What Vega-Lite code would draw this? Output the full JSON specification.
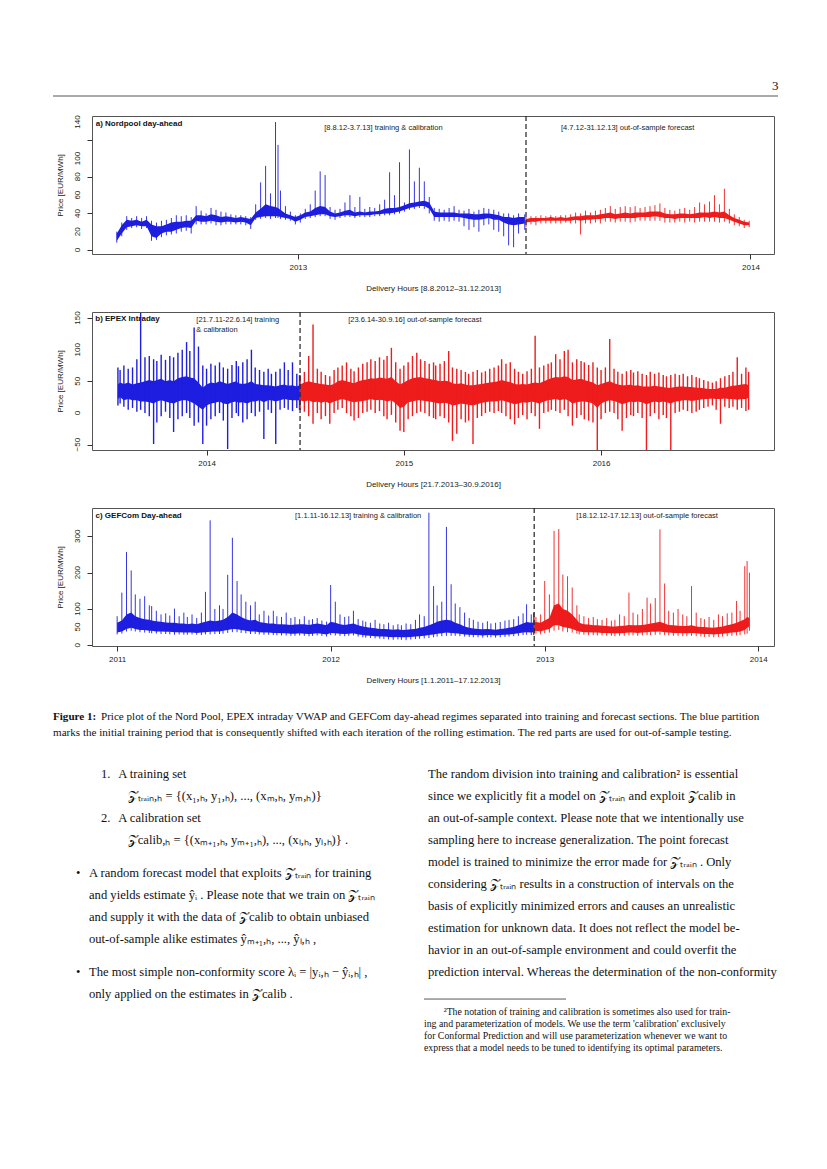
{
"$schema": "https://vega.github.io/schema/vega-lite/v6.json",
"background": "white",
"padding": {"left": 52, "top": 80, "right": 50, "bottom": 100},
"spacing": 17,
"align": "none",
"bounds": "full",
"config": {
  "view": {"stroke": "#555", "strokeWidth": 1},
  "font": "Liberation Sans",
  "axis": {"grid": false, "domain": false, "tickColor": "#333", "tickSize": 5, "labelFont": "Liberation Sans", "labelFontSize": 8, "labelColor": "#222", "titleFont": "Liberation Sans", "titleFontSize": 8, "titleFontWeight": "normal", "titleColor": "#222", "labelOverlap": false},
  "axisY": {"labels": false, "titlePadding": 22},
  "axisX": {"labelPadding": 4, "titlePadding": 13.5, "labelFlush": false}
},
"datasets": {
"pa": [
{"t":"2012-08-08","s":"tr","lo":10,"hi":18,"mn":8,"mx":20},
{"t":"2012-08-12","s":"tr","lo":18,"hi":27,"mn":15,"mx":30},
{"t":"2012-08-16","s":"tr","lo":25,"hi":33,"mn":22,"mx":37},
{"t":"2012-08-20","s":"tr","lo":26,"hi":32,"mn":24,"mx":35},
{"t":"2012-08-24","s":"tr","lo":27,"hi":33,"mn":25,"mx":37},
{"t":"2012-08-28","s":"tr","lo":26,"hi":31,"mn":23,"mx":35},
{"t":"2012-09-01","s":"tr","lo":26,"hi":33,"mn":24,"mx":37},
{"t":"2012-09-05","s":"tr","lo":15,"hi":28,"mn":10,"mx":32},
{"t":"2012-09-09","s":"tr","lo":13,"hi":26,"mn":11,"mx":30},
{"t":"2012-09-13","s":"tr","lo":18,"hi":26,"mn":14,"mx":32},
{"t":"2012-09-17","s":"tr","lo":20,"hi":28,"mn":16,"mx":33},
{"t":"2012-09-21","s":"tr","lo":20,"hi":30,"mn":17,"mx":35},
{"t":"2012-09-25","s":"tr","lo":22,"hi":31,"mn":18,"mx":38},
{"t":"2012-09-29","s":"tr","lo":24,"hi":31,"mn":20,"mx":37},
{"t":"2012-10-03","s":"tr","lo":25,"hi":32,"mn":21,"mx":38},
{"t":"2012-10-07","s":"tr","lo":24,"hi":32,"mn":18,"mx":36},
{"t":"2012-10-11","s":"tr","lo":32,"hi":38,"mn":28,"mx":48},
{"t":"2012-10-15","s":"tr","lo":31,"hi":38,"mn":28,"mx":43},
{"t":"2012-10-19","s":"tr","lo":31,"hi":37,"mn":28,"mx":40},
{"t":"2012-10-23","s":"tr","lo":32,"hi":39,"mn":29,"mx":46},
{"t":"2012-10-27","s":"tr","lo":31,"hi":38,"mn":27,"mx":44},
{"t":"2012-10-31","s":"tr","lo":30,"hi":36,"mn":27,"mx":42},
{"t":"2012-11-04","s":"tr","lo":31,"hi":37,"mn":28,"mx":41},
{"t":"2012-11-08","s":"tr","lo":31,"hi":36,"mn":28,"mx":39},
{"t":"2012-11-12","s":"tr","lo":30,"hi":35,"mn":28,"mx":38},
{"t":"2012-11-16","s":"tr","lo":31,"hi":36,"mn":28,"mx":38},
{"t":"2012-11-20","s":"tr","lo":30,"hi":35,"mn":27,"mx":37},
{"t":"2012-11-24","s":"tr","lo":27,"hi":34,"mn":23,"mx":36},
{"t":"2012-11-28","s":"tr","lo":35,"hi":41,"mn":33,"mx":50},
{"t":"2012-12-02","s":"tr","lo":36,"hi":45,"mn":34,"mx":74},
{"t":"2012-12-06","s":"tr","lo":37,"hi":50,"mn":35,"mx":92},
{"t":"2012-12-10","s":"tr","lo":37,"hi":48,"mn":34,"mx":62},
{"t":"2012-12-14","s":"tr","lo":37,"hi":47,"mn":35,"mx":140},
{"t":"2012-12-16","s":"tr","lo":37,"hi":46,"mn":35,"mx":115},
{"t":"2012-12-18","s":"tr","lo":36,"hi":44,"mn":34,"mx":65},
{"t":"2012-12-22","s":"tr","lo":35,"hi":40,"mn":33,"mx":48},
{"t":"2012-12-26","s":"tr","lo":34,"hi":38,"mn":32,"mx":42},
{"t":"2012-12-30","s":"tr","lo":31,"hi":36,"mn":28,"mx":38},
{"t":"2013-01-03","s":"tr","lo":33,"hi":38,"mn":30,"mx":40},
{"t":"2013-01-07","s":"tr","lo":36,"hi":41,"mn":34,"mx":45},
{"t":"2013-01-11","s":"tr","lo":37,"hi":42,"mn":35,"mx":50},
{"t":"2013-01-15","s":"tr","lo":38,"hi":46,"mn":36,"mx":65},
{"t":"2013-01-19","s":"tr","lo":39,"hi":48,"mn":37,"mx":86},
{"t":"2013-01-23","s":"tr","lo":39,"hi":47,"mn":37,"mx":82},
{"t":"2013-01-27","s":"tr","lo":37,"hi":42,"mn":34,"mx":47},
{"t":"2013-01-31","s":"tr","lo":36,"hi":40,"mn":33,"mx":44},
{"t":"2013-02-04","s":"tr","lo":37,"hi":41,"mn":35,"mx":45},
{"t":"2013-02-08","s":"tr","lo":38,"hi":43,"mn":36,"mx":52},
{"t":"2013-02-12","s":"tr","lo":38,"hi":44,"mn":36,"mx":60},
{"t":"2013-02-16","s":"tr","lo":37,"hi":41,"mn":35,"mx":47},
{"t":"2013-02-20","s":"tr","lo":38,"hi":42,"mn":36,"mx":58},
{"t":"2013-02-24","s":"tr","lo":38,"hi":41,"mn":36,"mx":45},
{"t":"2013-02-28","s":"tr","lo":38,"hi":42,"mn":36,"mx":47},
{"t":"2013-03-04","s":"tr","lo":39,"hi":42,"mn":37,"mx":46},
{"t":"2013-03-08","s":"tr","lo":39,"hi":43,"mn":37,"mx":50},
{"t":"2013-03-12","s":"tr","lo":40,"hi":45,"mn":38,"mx":55},
{"t":"2013-03-16","s":"tr","lo":40,"hi":46,"mn":38,"mx":85},
{"t":"2013-03-20","s":"tr","lo":41,"hi":46,"mn":39,"mx":60},
{"t":"2013-03-24","s":"tr","lo":42,"hi":47,"mn":40,"mx":96},
{"t":"2013-03-28","s":"tr","lo":44,"hi":49,"mn":42,"mx":52},
{"t":"2013-04-01","s":"tr","lo":46,"hi":51,"mn":44,"mx":110},
{"t":"2013-04-05","s":"tr","lo":47,"hi":52,"mn":45,"mx":75},
{"t":"2013-04-09","s":"tr","lo":48,"hi":53,"mn":46,"mx":90},
{"t":"2013-04-13","s":"tr","lo":48,"hi":54,"mn":45,"mx":75},
{"t":"2013-04-17","s":"tr","lo":45,"hi":52,"mn":40,"mx":58},
{"t":"2013-04-21","s":"tr","lo":36,"hi":42,"mn":32,"mx":46},
{"t":"2013-04-25","s":"tr","lo":36,"hi":41,"mn":31,"mx":45},
{"t":"2013-04-29","s":"tr","lo":36,"hi":41,"mn":32,"mx":44},
{"t":"2013-05-03","s":"tr","lo":36,"hi":41,"mn":31,"mx":46},
{"t":"2013-05-07","s":"tr","lo":36,"hi":41,"mn":32,"mx":48},
{"t":"2013-05-11","s":"tr","lo":36,"hi":40,"mn":31,"mx":44},
{"t":"2013-05-15","s":"tr","lo":35,"hi":40,"mn":26,"mx":43},
{"t":"2013-05-19","s":"tr","lo":34,"hi":40,"mn":22,"mx":45},
{"t":"2013-05-23","s":"tr","lo":33,"hi":39,"mn":25,"mx":42},
{"t":"2013-05-27","s":"tr","lo":33,"hi":39,"mn":20,"mx":44},
{"t":"2013-05-31","s":"tr","lo":34,"hi":40,"mn":27,"mx":46},
{"t":"2013-06-04","s":"tr","lo":35,"hi":40,"mn":28,"mx":45},
{"t":"2013-06-08","s":"tr","lo":33,"hi":39,"mn":22,"mx":44},
{"t":"2013-06-12","s":"tr","lo":33,"hi":38,"mn":20,"mx":42},
{"t":"2013-06-16","s":"tr","lo":30,"hi":36,"mn":15,"mx":40},
{"t":"2013-06-20","s":"tr","lo":28,"hi":36,"mn":5,"mx":40},
{"t":"2013-06-24","s":"tr","lo":27,"hi":35,"mn":3,"mx":38},
{"t":"2013-06-28","s":"tr","lo":28,"hi":36,"mn":18,"mx":40},
{"t":"2013-07-03","s":"tr","lo":29,"hi":36,"mn":22,"mx":39},
{"t":"2013-07-04","s":"te","lo":30,"hi":34,"mn":25,"mx":36},
{"t":"2013-07-08","s":"te","lo":31,"hi":35,"mn":28,"mx":37},
{"t":"2013-07-12","s":"te","lo":31,"hi":35,"mn":27,"mx":37},
{"t":"2013-07-16","s":"te","lo":32,"hi":35,"mn":29,"mx":38},
{"t":"2013-07-20","s":"te","lo":32,"hi":35,"mn":29,"mx":37},
{"t":"2013-07-24","s":"te","lo":32,"hi":36,"mn":29,"mx":38},
{"t":"2013-07-28","s":"te","lo":32,"hi":35,"mn":29,"mx":37},
{"t":"2013-08-01","s":"te","lo":32,"hi":36,"mn":29,"mx":38},
{"t":"2013-08-05","s":"te","lo":32,"hi":35,"mn":30,"mx":38},
{"t":"2013-08-09","s":"te","lo":32,"hi":36,"mn":29,"mx":39},
{"t":"2013-08-13","s":"te","lo":33,"hi":37,"mn":29,"mx":41},
{"t":"2013-08-17","s":"te","lo":32,"hi":37,"mn":17,"mx":40},
{"t":"2013-08-21","s":"te","lo":33,"hi":38,"mn":29,"mx":43},
{"t":"2013-08-25","s":"te","lo":33,"hi":38,"mn":29,"mx":41},
{"t":"2013-08-29","s":"te","lo":34,"hi":38,"mn":30,"mx":43},
{"t":"2013-09-02","s":"te","lo":34,"hi":39,"mn":29,"mx":44},
{"t":"2013-09-06","s":"te","lo":35,"hi":40,"mn":31,"mx":46},
{"t":"2013-09-10","s":"te","lo":35,"hi":41,"mn":31,"mx":48},
{"t":"2013-09-14","s":"te","lo":34,"hi":39,"mn":30,"mx":45},
{"t":"2013-09-18","s":"te","lo":35,"hi":40,"mn":31,"mx":47},
{"t":"2013-09-22","s":"te","lo":35,"hi":41,"mn":31,"mx":48},
{"t":"2013-09-26","s":"te","lo":35,"hi":40,"mn":30,"mx":47},
{"t":"2013-09-30","s":"te","lo":35,"hi":41,"mn":31,"mx":48},
{"t":"2013-10-04","s":"te","lo":36,"hi":41,"mn":32,"mx":46},
{"t":"2013-10-08","s":"te","lo":36,"hi":41,"mn":32,"mx":47},
{"t":"2013-10-12","s":"te","lo":36,"hi":42,"mn":32,"mx":48},
{"t":"2013-10-16","s":"te","lo":37,"hi":42,"mn":32,"mx":49},
{"t":"2013-10-20","s":"te","lo":36,"hi":42,"mn":32,"mx":51},
{"t":"2013-10-24","s":"te","lo":35,"hi":40,"mn":30,"mx":46},
{"t":"2013-10-28","s":"te","lo":35,"hi":39,"mn":30,"mx":44},
{"t":"2013-11-01","s":"te","lo":34,"hi":39,"mn":30,"mx":43},
{"t":"2013-11-05","s":"te","lo":35,"hi":40,"mn":31,"mx":45},
{"t":"2013-11-09","s":"te","lo":35,"hi":40,"mn":30,"mx":46},
{"t":"2013-11-13","s":"te","lo":35,"hi":39,"mn":31,"mx":44},
{"t":"2013-11-17","s":"te","lo":35,"hi":40,"mn":30,"mx":47},
{"t":"2013-11-21","s":"te","lo":35,"hi":41,"mn":31,"mx":52},
{"t":"2013-11-25","s":"te","lo":36,"hi":41,"mn":31,"mx":50},
{"t":"2013-11-29","s":"te","lo":35,"hi":41,"mn":31,"mx":53},
{"t":"2013-12-03","s":"te","lo":36,"hi":42,"mn":31,"mx":60},
{"t":"2013-12-07","s":"te","lo":35,"hi":41,"mn":30,"mx":50},
{"t":"2013-12-11","s":"te","lo":35,"hi":42,"mn":31,"mx":67},
{"t":"2013-12-15","s":"te","lo":33,"hi":38,"mn":29,"mx":45},
{"t":"2013-12-19","s":"te","lo":31,"hi":35,"mn":27,"mx":39},
{"t":"2013-12-23","s":"te","lo":29,"hi":33,"mn":26,"mx":36},
{"t":"2013-12-27","s":"te","lo":27,"hi":31,"mn":24,"mx":33},
{"t":"2013-12-31","s":"te","lo":27,"hi":30,"mn":25,"mx":32}
],
"pb": [
{"t":"2013-07-21","s":"tr","lo":22,"hi":45,"mn":12,"mx":72},
{"t":"2013-07-25","s":"tr","lo":25,"hi":48,"mn":15,"mx":68},
{"t":"2013-08-01","s":"tr","lo":20,"hi":46,"mn":10,"mx":75},
{"t":"2013-08-09","s":"tr","lo":22,"hi":48,"mn":5,"mx":70},
{"t":"2013-08-17","s":"tr","lo":20,"hi":45,"mn":8,"mx":72},
{"t":"2013-08-25","s":"tr","lo":20,"hi":47,"mn":2,"mx":85},
{"t":"2013-09-01","s":"tr","lo":18,"hi":48,"mn":5,"mx":158},
{"t":"2013-09-09","s":"tr","lo":18,"hi":50,"mn":0,"mx":88},
{"t":"2013-09-17","s":"tr","lo":17,"hi":52,"mn":-5,"mx":90},
{"t":"2013-09-25","s":"tr","lo":15,"hi":50,"mn":-49,"mx":85},
{"t":"2013-10-01","s":"tr","lo":18,"hi":52,"mn":-15,"mx":82},
{"t":"2013-10-09","s":"tr","lo":20,"hi":54,"mn":-5,"mx":92},
{"t":"2013-10-17","s":"tr","lo":18,"hi":50,"mn":2,"mx":84},
{"t":"2013-10-25","s":"tr","lo":16,"hi":52,"mn":-8,"mx":90},
{"t":"2013-11-01","s":"tr","lo":15,"hi":50,"mn":-30,"mx":88},
{"t":"2013-11-09","s":"tr","lo":18,"hi":55,"mn":-10,"mx":95},
{"t":"2013-11-17","s":"tr","lo":20,"hi":57,"mn":-5,"mx":100},
{"t":"2013-11-25","s":"tr","lo":20,"hi":58,"mn":0,"mx":112},
{"t":"2013-12-01","s":"tr","lo":18,"hi":56,"mn":-8,"mx":98},
{"t":"2013-12-09","s":"tr","lo":15,"hi":55,"mn":-20,"mx":135},
{"t":"2013-12-17","s":"tr","lo":10,"hi":48,"mn":-15,"mx":105},
{"t":"2013-12-25","s":"tr","lo":5,"hi":40,"mn":-49,"mx":75},
{"t":"2014-01-01","s":"tr","lo":12,"hi":45,"mn":-20,"mx":70},
{"t":"2014-01-09","s":"tr","lo":15,"hi":48,"mn":-10,"mx":78},
{"t":"2014-01-17","s":"tr","lo":16,"hi":47,"mn":-5,"mx":75},
{"t":"2014-01-25","s":"tr","lo":18,"hi":50,"mn":0,"mx":80},
{"t":"2014-02-01","s":"tr","lo":15,"hi":48,"mn":-12,"mx":72},
{"t":"2014-02-09","s":"tr","lo":14,"hi":46,"mn":-57,"mx":70},
{"t":"2014-02-17","s":"tr","lo":17,"hi":48,"mn":-8,"mx":76},
{"t":"2014-02-25","s":"tr","lo":18,"hi":50,"mn":0,"mx":82},
{"t":"2014-03-01","s":"tr","lo":16,"hi":47,"mn":-5,"mx":74},
{"t":"2014-03-09","s":"tr","lo":17,"hi":46,"mn":-15,"mx":80},
{"t":"2014-03-17","s":"tr","lo":15,"hi":47,"mn":-10,"mx":85},
{"t":"2014-03-25","s":"tr","lo":18,"hi":50,"mn":0,"mx":100},
{"t":"2014-04-01","s":"tr","lo":18,"hi":46,"mn":-5,"mx":72},
{"t":"2014-04-09","s":"tr","lo":20,"hi":45,"mn":2,"mx":68},
{"t":"2014-04-17","s":"tr","lo":17,"hi":44,"mn":-41,"mx":65},
{"t":"2014-04-25","s":"tr","lo":20,"hi":44,"mn":5,"mx":70},
{"t":"2014-05-01","s":"tr","lo":20,"hi":43,"mn":0,"mx":62},
{"t":"2014-05-09","s":"tr","lo":18,"hi":42,"mn":-49,"mx":65},
{"t":"2014-05-17","s":"tr","lo":20,"hi":44,"mn":5,"mx":70},
{"t":"2014-05-25","s":"tr","lo":22,"hi":45,"mn":8,"mx":80},
{"t":"2014-06-01","s":"tr","lo":21,"hi":43,"mn":5,"mx":68},
{"t":"2014-06-09","s":"tr","lo":20,"hi":44,"mn":3,"mx":80},
{"t":"2014-06-17","s":"tr","lo":20,"hi":42,"mn":8,"mx":62},
{"t":"2014-06-22","s":"tr","lo":20,"hi":44,"mn":5,"mx":60},
{"t":"2014-06-23","s":"te","lo":20,"hi":45,"mn":5,"mx":60},
{"t":"2014-07-01","s":"te","lo":18,"hi":48,"mn":2,"mx":65},
{"t":"2014-07-09","s":"te","lo":20,"hi":50,"mn":-5,"mx":90},
{"t":"2014-07-17","s":"te","lo":17,"hi":48,"mn":-17,"mx":140},
{"t":"2014-07-25","s":"te","lo":18,"hi":47,"mn":0,"mx":70},
{"t":"2014-08-01","s":"te","lo":16,"hi":46,"mn":-10,"mx":65},
{"t":"2014-08-09","s":"te","lo":18,"hi":45,"mn":-5,"mx":60},
{"t":"2014-08-17","s":"te","lo":15,"hi":44,"mn":-17,"mx":58},
{"t":"2014-08-25","s":"te","lo":18,"hi":46,"mn":0,"mx":68},
{"t":"2014-09-01","s":"te","lo":20,"hi":50,"mn":5,"mx":72},
{"t":"2014-09-09","s":"te","lo":22,"hi":52,"mn":8,"mx":75},
{"t":"2014-09-17","s":"te","lo":20,"hi":50,"mn":0,"mx":80},
{"t":"2014-09-25","s":"te","lo":18,"hi":48,"mn":-5,"mx":70},
{"t":"2014-10-01","s":"te","lo":17,"hi":47,"mn":-12,"mx":66},
{"t":"2014-10-09","s":"te","lo":18,"hi":50,"mn":-8,"mx":72},
{"t":"2014-10-17","s":"te","lo":19,"hi":52,"mn":0,"mx":78},
{"t":"2014-10-25","s":"te","lo":20,"hi":53,"mn":2,"mx":80},
{"t":"2014-11-01","s":"te","lo":22,"hi":55,"mn":5,"mx":85},
{"t":"2014-11-09","s":"te","lo":20,"hi":54,"mn":0,"mx":82},
{"t":"2014-11-17","s":"te","lo":21,"hi":56,"mn":3,"mx":88},
{"t":"2014-11-25","s":"te","lo":20,"hi":55,"mn":-5,"mx":84},
{"t":"2014-12-01","s":"te","lo":18,"hi":54,"mn":-10,"mx":90},
{"t":"2014-12-09","s":"te","lo":20,"hi":57,"mn":-3,"mx":103},
{"t":"2014-12-17","s":"te","lo":15,"hi":50,"mn":-15,"mx":80},
{"t":"2014-12-25","s":"te","lo":8,"hi":45,"mn":-28,"mx":70},
{"t":"2015-01-01","s":"te","lo":10,"hi":48,"mn":-30,"mx":75},
{"t":"2015-01-09","s":"te","lo":17,"hi":52,"mn":-10,"mx":80},
{"t":"2015-01-17","s":"te","lo":18,"hi":55,"mn":-5,"mx":90},
{"t":"2015-01-25","s":"te","lo":20,"hi":56,"mn":0,"mx":95},
{"t":"2015-02-01","s":"te","lo":20,"hi":57,"mn":2,"mx":85},
{"t":"2015-02-09","s":"te","lo":19,"hi":55,"mn":0,"mx":82},
{"t":"2015-02-17","s":"te","lo":18,"hi":54,"mn":-5,"mx":78},
{"t":"2015-02-25","s":"te","lo":17,"hi":52,"mn":-8,"mx":80},
{"t":"2015-03-01","s":"te","lo":16,"hi":52,"mn":-10,"mx":75},
{"t":"2015-03-09","s":"te","lo":15,"hi":50,"mn":-5,"mx":78},
{"t":"2015-03-17","s":"te","lo":16,"hi":51,"mn":-8,"mx":82},
{"t":"2015-03-25","s":"te","lo":15,"hi":50,"mn":-15,"mx":98},
{"t":"2015-04-01","s":"te","lo":12,"hi":47,"mn":-44,"mx":72},
{"t":"2015-04-09","s":"te","lo":13,"hi":46,"mn":-33,"mx":70},
{"t":"2015-04-17","s":"te","lo":15,"hi":47,"mn":-10,"mx":68},
{"t":"2015-04-25","s":"te","lo":14,"hi":45,"mn":-15,"mx":65},
{"t":"2015-05-01","s":"te","lo":13,"hi":44,"mn":-12,"mx":62},
{"t":"2015-05-09","s":"te","lo":12,"hi":44,"mn":-49,"mx":65},
{"t":"2015-05-17","s":"te","lo":14,"hi":45,"mn":-8,"mx":68},
{"t":"2015-05-25","s":"te","lo":16,"hi":46,"mn":-5,"mx":64},
{"t":"2015-06-01","s":"te","lo":17,"hi":47,"mn":0,"mx":66},
{"t":"2015-06-09","s":"te","lo":18,"hi":48,"mn":2,"mx":70},
{"t":"2015-06-17","s":"te","lo":18,"hi":49,"mn":0,"mx":72},
{"t":"2015-06-25","s":"te","lo":19,"hi":50,"mn":3,"mx":75},
{"t":"2015-07-01","s":"te","lo":20,"hi":52,"mn":0,"mx":85},
{"t":"2015-07-09","s":"te","lo":18,"hi":50,"mn":-5,"mx":78},
{"t":"2015-07-17","s":"te","lo":16,"hi":49,"mn":-10,"mx":80},
{"t":"2015-07-25","s":"te","lo":14,"hi":46,"mn":-18,"mx":70},
{"t":"2015-08-01","s":"te","lo":15,"hi":45,"mn":-8,"mx":65},
{"t":"2015-08-09","s":"te","lo":17,"hi":46,"mn":-3,"mx":62},
{"t":"2015-08-17","s":"te","lo":16,"hi":45,"mn":-10,"mx":66},
{"t":"2015-08-25","s":"te","lo":18,"hi":47,"mn":0,"mx":70},
{"t":"2015-09-01","s":"te","lo":17,"hi":48,"mn":-5,"mx":122},
{"t":"2015-09-09","s":"te","lo":15,"hi":47,"mn":-25,"mx":72},
{"t":"2015-09-17","s":"te","lo":18,"hi":50,"mn":0,"mx":75},
{"t":"2015-09-25","s":"te","lo":20,"hi":53,"mn":2,"mx":78},
{"t":"2015-10-01","s":"te","lo":21,"hi":55,"mn":5,"mx":80},
{"t":"2015-10-09","s":"te","lo":22,"hi":57,"mn":3,"mx":93},
{"t":"2015-10-17","s":"te","lo":20,"hi":56,"mn":0,"mx":85},
{"t":"2015-10-25","s":"te","lo":22,"hi":58,"mn":5,"mx":98},
{"t":"2015-11-01","s":"te","lo":20,"hi":57,"mn":-5,"mx":100},
{"t":"2015-11-09","s":"te","lo":15,"hi":52,"mn":-20,"mx":80},
{"t":"2015-11-17","s":"te","lo":17,"hi":53,"mn":-8,"mx":85},
{"t":"2015-11-25","s":"te","lo":18,"hi":54,"mn":-3,"mx":82},
{"t":"2015-12-01","s":"te","lo":18,"hi":52,"mn":-10,"mx":80},
{"t":"2015-12-09","s":"te","lo":17,"hi":50,"mn":-12,"mx":76},
{"t":"2015-12-17","s":"te","lo":15,"hi":48,"mn":-15,"mx":80},
{"t":"2015-12-25","s":"te","lo":8,"hi":44,"mn":-60,"mx":72},
{"t":"2016-01-01","s":"te","lo":15,"hi":46,"mn":-10,"mx":68},
{"t":"2016-01-09","s":"te","lo":18,"hi":48,"mn":0,"mx":72},
{"t":"2016-01-17","s":"te","lo":20,"hi":50,"mn":2,"mx":117},
{"t":"2016-01-25","s":"te","lo":19,"hi":47,"mn":0,"mx":70},
{"t":"2016-02-01","s":"te","lo":17,"hi":45,"mn":-10,"mx":65},
{"t":"2016-02-09","s":"te","lo":14,"hi":44,"mn":-28,"mx":62},
{"t":"2016-02-17","s":"te","lo":16,"hi":44,"mn":-8,"mx":66},
{"t":"2016-02-25","s":"te","lo":18,"hi":45,"mn":-3,"mx":68},
{"t":"2016-03-01","s":"te","lo":17,"hi":43,"mn":-5,"mx":64},
{"t":"2016-03-09","s":"te","lo":18,"hi":44,"mn":0,"mx":66},
{"t":"2016-03-17","s":"te","lo":17,"hi":42,"mn":-8,"mx":62},
{"t":"2016-03-25","s":"te","lo":14,"hi":42,"mn":-60,"mx":60},
{"t":"2016-04-01","s":"te","lo":16,"hi":42,"mn":-5,"mx":65},
{"t":"2016-04-09","s":"te","lo":18,"hi":43,"mn":0,"mx":62},
{"t":"2016-04-17","s":"te","lo":17,"hi":42,"mn":-10,"mx":64},
{"t":"2016-04-25","s":"te","lo":18,"hi":41,"mn":-3,"mx":60},
{"t":"2016-05-01","s":"te","lo":17,"hi":40,"mn":-8,"mx":58},
{"t":"2016-05-09","s":"te","lo":15,"hi":40,"mn":-60,"mx":60},
{"t":"2016-05-17","s":"te","lo":18,"hi":41,"mn":0,"mx":62},
{"t":"2016-05-25","s":"te","lo":19,"hi":42,"mn":2,"mx":60},
{"t":"2016-06-01","s":"te","lo":20,"hi":42,"mn":5,"mx":62},
{"t":"2016-06-09","s":"te","lo":20,"hi":41,"mn":3,"mx":58},
{"t":"2016-06-17","s":"te","lo":19,"hi":41,"mn":0,"mx":60},
{"t":"2016-06-25","s":"te","lo":20,"hi":40,"mn":2,"mx":57},
{"t":"2016-07-01","s":"te","lo":21,"hi":40,"mn":5,"mx":55},
{"t":"2016-07-09","s":"te","lo":22,"hi":39,"mn":8,"mx":52},
{"t":"2016-07-17","s":"te","lo":22,"hi":38,"mn":10,"mx":50},
{"t":"2016-07-25","s":"te","lo":23,"hi":38,"mn":12,"mx":48},
{"t":"2016-08-01","s":"te","lo":22,"hi":38,"mn":5,"mx":50},
{"t":"2016-08-09","s":"te","lo":22,"hi":40,"mn":-17,"mx":55},
{"t":"2016-08-17","s":"te","lo":23,"hi":40,"mn":10,"mx":58},
{"t":"2016-08-25","s":"te","lo":22,"hi":42,"mn":8,"mx":60},
{"t":"2016-09-01","s":"te","lo":22,"hi":43,"mn":10,"mx":65},
{"t":"2016-09-09","s":"te","lo":21,"hi":44,"mn":5,"mx":88},
{"t":"2016-09-17","s":"te","lo":22,"hi":45,"mn":8,"mx":62},
{"t":"2016-09-25","s":"te","lo":22,"hi":46,"mn":3,"mx":72},
{"t":"2016-09-30","s":"te","lo":24,"hi":44,"mn":5,"mx":65}
],
"pc": [
{"t":"2011-01-01","s":"tr","lo":35,"hi":62,"mn":30,"mx":80},
{"t":"2011-01-09","s":"tr","lo":38,"hi":68,"mn":32,"mx":145},
{"t":"2011-01-17","s":"tr","lo":45,"hi":85,"mn":38,"mx":257},
{"t":"2011-01-25","s":"tr","lo":48,"hi":90,"mn":40,"mx":206},
{"t":"2011-02-01","s":"tr","lo":45,"hi":80,"mn":38,"mx":140},
{"t":"2011-02-09","s":"tr","lo":42,"hi":75,"mn":36,"mx":128},
{"t":"2011-02-17","s":"tr","lo":42,"hi":72,"mn":35,"mx":135},
{"t":"2011-02-25","s":"tr","lo":40,"hi":70,"mn":34,"mx":110},
{"t":"2011-03-01","s":"tr","lo":40,"hi":68,"mn":33,"mx":108},
{"t":"2011-03-09","s":"tr","lo":38,"hi":66,"mn":32,"mx":95},
{"t":"2011-03-17","s":"tr","lo":38,"hi":65,"mn":31,"mx":85},
{"t":"2011-03-25","s":"tr","lo":37,"hi":63,"mn":31,"mx":88},
{"t":"2011-04-01","s":"tr","lo":37,"hi":62,"mn":30,"mx":82},
{"t":"2011-04-09","s":"tr","lo":36,"hi":62,"mn":29,"mx":101},
{"t":"2011-04-17","s":"tr","lo":36,"hi":60,"mn":30,"mx":80},
{"t":"2011-04-25","s":"tr","lo":35,"hi":60,"mn":29,"mx":90},
{"t":"2011-05-01","s":"tr","lo":35,"hi":58,"mn":29,"mx":78},
{"t":"2011-05-09","s":"tr","lo":35,"hi":60,"mn":30,"mx":85},
{"t":"2011-05-17","s":"tr","lo":34,"hi":58,"mn":29,"mx":75},
{"t":"2011-05-25","s":"tr","lo":35,"hi":62,"mn":28,"mx":90},
{"t":"2011-06-01","s":"tr","lo":36,"hi":65,"mn":30,"mx":147},
{"t":"2011-06-09","s":"tr","lo":37,"hi":68,"mn":30,"mx":344},
{"t":"2011-06-17","s":"tr","lo":38,"hi":66,"mn":31,"mx":100},
{"t":"2011-06-25","s":"tr","lo":38,"hi":68,"mn":31,"mx":110},
{"t":"2011-07-01","s":"tr","lo":40,"hi":70,"mn":32,"mx":100},
{"t":"2011-07-09","s":"tr","lo":42,"hi":78,"mn":34,"mx":194},
{"t":"2011-07-17","s":"tr","lo":45,"hi":90,"mn":36,"mx":296},
{"t":"2011-07-25","s":"tr","lo":44,"hi":85,"mn":36,"mx":177},
{"t":"2011-08-01","s":"tr","lo":42,"hi":78,"mn":34,"mx":140},
{"t":"2011-08-09","s":"tr","lo":40,"hi":72,"mn":33,"mx":120},
{"t":"2011-08-17","s":"tr","lo":38,"hi":68,"mn":31,"mx":110},
{"t":"2011-08-25","s":"tr","lo":38,"hi":70,"mn":31,"mx":120},
{"t":"2011-09-01","s":"tr","lo":36,"hi":64,"mn":30,"mx":85},
{"t":"2011-09-09","s":"tr","lo":35,"hi":62,"mn":29,"mx":95},
{"t":"2011-09-17","s":"tr","lo":35,"hi":60,"mn":29,"mx":82},
{"t":"2011-09-25","s":"tr","lo":34,"hi":60,"mn":28,"mx":95},
{"t":"2011-10-01","s":"tr","lo":34,"hi":58,"mn":28,"mx":80},
{"t":"2011-10-09","s":"tr","lo":33,"hi":58,"mn":27,"mx":78},
{"t":"2011-10-17","s":"tr","lo":33,"hi":57,"mn":27,"mx":90},
{"t":"2011-10-25","s":"tr","lo":32,"hi":56,"mn":26,"mx":75},
{"t":"2011-11-01","s":"tr","lo":32,"hi":57,"mn":26,"mx":78},
{"t":"2011-11-09","s":"tr","lo":33,"hi":58,"mn":27,"mx":72},
{"t":"2011-11-17","s":"tr","lo":32,"hi":58,"mn":26,"mx":80},
{"t":"2011-11-25","s":"tr","lo":31,"hi":56,"mn":25,"mx":70},
{"t":"2011-12-01","s":"tr","lo":32,"hi":58,"mn":26,"mx":72},
{"t":"2011-12-09","s":"tr","lo":33,"hi":60,"mn":27,"mx":75},
{"t":"2011-12-17","s":"tr","lo":32,"hi":58,"mn":26,"mx":68},
{"t":"2011-12-25","s":"tr","lo":30,"hi":55,"mn":24,"mx":65},
{"t":"2012-01-01","s":"tr","lo":34,"hi":65,"mn":28,"mx":166},
{"t":"2012-01-09","s":"tr","lo":33,"hi":62,"mn":27,"mx":120},
{"t":"2012-01-17","s":"tr","lo":32,"hi":58,"mn":26,"mx":85},
{"t":"2012-01-25","s":"tr","lo":31,"hi":56,"mn":25,"mx":78},
{"t":"2012-02-01","s":"tr","lo":32,"hi":58,"mn":26,"mx":80},
{"t":"2012-02-09","s":"tr","lo":33,"hi":60,"mn":27,"mx":95},
{"t":"2012-02-17","s":"tr","lo":30,"hi":55,"mn":24,"mx":72},
{"t":"2012-02-25","s":"tr","lo":28,"hi":52,"mn":22,"mx":68},
{"t":"2012-03-01","s":"tr","lo":27,"hi":50,"mn":21,"mx":65},
{"t":"2012-03-09","s":"tr","lo":26,"hi":48,"mn":20,"mx":62},
{"t":"2012-03-17","s":"tr","lo":25,"hi":47,"mn":19,"mx":70},
{"t":"2012-03-25","s":"tr","lo":24,"hi":45,"mn":18,"mx":60},
{"t":"2012-04-01","s":"tr","lo":24,"hi":45,"mn":17,"mx":58},
{"t":"2012-04-09","s":"tr","lo":23,"hi":44,"mn":16,"mx":62},
{"t":"2012-04-17","s":"tr","lo":22,"hi":43,"mn":15,"mx":55},
{"t":"2012-04-25","s":"tr","lo":23,"hi":44,"mn":16,"mx":58},
{"t":"2012-05-01","s":"tr","lo":22,"hi":42,"mn":15,"mx":55},
{"t":"2012-05-09","s":"tr","lo":22,"hi":43,"mn":14,"mx":60},
{"t":"2012-05-17","s":"tr","lo":23,"hi":44,"mn":16,"mx":58},
{"t":"2012-05-25","s":"tr","lo":24,"hi":45,"mn":17,"mx":70},
{"t":"2012-06-01","s":"tr","lo":25,"hi":48,"mn":18,"mx":85},
{"t":"2012-06-09","s":"tr","lo":26,"hi":50,"mn":19,"mx":80},
{"t":"2012-06-17","s":"tr","lo":28,"hi":55,"mn":20,"mx":365},
{"t":"2012-06-25","s":"tr","lo":30,"hi":60,"mn":22,"mx":163},
{"t":"2012-07-01","s":"tr","lo":32,"hi":65,"mn":24,"mx":110},
{"t":"2012-07-09","s":"tr","lo":33,"hi":68,"mn":25,"mx":120},
{"t":"2012-07-17","s":"tr","lo":35,"hi":70,"mn":26,"mx":326},
{"t":"2012-07-25","s":"tr","lo":34,"hi":68,"mn":26,"mx":168},
{"t":"2012-08-01","s":"tr","lo":33,"hi":62,"mn":26,"mx":115},
{"t":"2012-08-09","s":"tr","lo":32,"hi":58,"mn":25,"mx":105},
{"t":"2012-08-17","s":"tr","lo":30,"hi":52,"mn":24,"mx":90},
{"t":"2012-08-25","s":"tr","lo":29,"hi":48,"mn":23,"mx":75},
{"t":"2012-09-01","s":"tr","lo":28,"hi":46,"mn":22,"mx":70},
{"t":"2012-09-09","s":"tr","lo":28,"hi":45,"mn":22,"mx":65},
{"t":"2012-09-17","s":"tr","lo":27,"hi":44,"mn":21,"mx":62},
{"t":"2012-09-25","s":"tr","lo":28,"hi":45,"mn":22,"mx":66},
{"t":"2012-10-01","s":"tr","lo":28,"hi":44,"mn":22,"mx":60},
{"t":"2012-10-09","s":"tr","lo":27,"hi":43,"mn":21,"mx":62},
{"t":"2012-10-17","s":"tr","lo":28,"hi":45,"mn":22,"mx":64},
{"t":"2012-10-25","s":"tr","lo":29,"hi":46,"mn":23,"mx":68},
{"t":"2012-11-01","s":"tr","lo":30,"hi":48,"mn":24,"mx":70},
{"t":"2012-11-09","s":"tr","lo":31,"hi":50,"mn":25,"mx":72},
{"t":"2012-11-17","s":"tr","lo":33,"hi":55,"mn":26,"mx":80},
{"t":"2012-11-25","s":"tr","lo":35,"hi":60,"mn":28,"mx":88},
{"t":"2012-12-01","s":"tr","lo":36,"hi":64,"mn":29,"mx":113},
{"t":"2012-12-09","s":"tr","lo":35,"hi":62,"mn":28,"mx":85},
{"t":"2012-12-13","s":"tr","lo":36,"hi":63,"mn":28,"mx":90},
{"t":"2012-12-14","s":"te","lo":38,"hi":62,"mn":30,"mx":80},
{"t":"2012-12-17","s":"te","lo":40,"hi":64,"mn":32,"mx":78},
{"t":"2012-12-25","s":"te","lo":38,"hi":62,"mn":30,"mx":85},
{"t":"2013-01-01","s":"te","lo":42,"hi":68,"mn":33,"mx":177},
{"t":"2013-01-09","s":"te","lo":45,"hi":75,"mn":35,"mx":140},
{"t":"2013-01-17","s":"te","lo":55,"hi":110,"mn":40,"mx":315},
{"t":"2013-01-25","s":"te","lo":55,"hi":115,"mn":42,"mx":320},
{"t":"2013-02-01","s":"te","lo":50,"hi":100,"mn":38,"mx":195},
{"t":"2013-02-09","s":"te","lo":48,"hi":95,"mn":36,"mx":190},
{"t":"2013-02-17","s":"te","lo":45,"hi":85,"mn":35,"mx":159},
{"t":"2013-02-25","s":"te","lo":40,"hi":70,"mn":32,"mx":110},
{"t":"2013-03-01","s":"te","lo":38,"hi":62,"mn":30,"mx":85},
{"t":"2013-03-09","s":"te","lo":36,"hi":58,"mn":29,"mx":80},
{"t":"2013-03-17","s":"te","lo":36,"hi":57,"mn":28,"mx":75},
{"t":"2013-03-25","s":"te","lo":35,"hi":55,"mn":28,"mx":78},
{"t":"2013-04-01","s":"te","lo":35,"hi":55,"mn":27,"mx":72},
{"t":"2013-04-09","s":"te","lo":34,"hi":54,"mn":27,"mx":70},
{"t":"2013-04-17","s":"te","lo":34,"hi":53,"mn":26,"mx":75},
{"t":"2013-04-25","s":"te","lo":33,"hi":52,"mn":26,"mx":68},
{"t":"2013-05-01","s":"te","lo":33,"hi":52,"mn":25,"mx":70},
{"t":"2013-05-09","s":"te","lo":33,"hi":53,"mn":26,"mx":85},
{"t":"2013-05-17","s":"te","lo":34,"hi":54,"mn":26,"mx":80},
{"t":"2013-05-25","s":"te","lo":35,"hi":56,"mn":27,"mx":145},
{"t":"2013-06-01","s":"te","lo":35,"hi":55,"mn":27,"mx":90},
{"t":"2013-06-09","s":"te","lo":34,"hi":55,"mn":26,"mx":85},
{"t":"2013-06-17","s":"te","lo":35,"hi":56,"mn":27,"mx":100},
{"t":"2013-06-25","s":"te","lo":36,"hi":58,"mn":28,"mx":131},
{"t":"2013-07-01","s":"te","lo":37,"hi":60,"mn":28,"mx":115},
{"t":"2013-07-09","s":"te","lo":37,"hi":62,"mn":29,"mx":130},
{"t":"2013-07-17","s":"te","lo":38,"hi":65,"mn":29,"mx":319},
{"t":"2013-07-25","s":"te","lo":36,"hi":60,"mn":28,"mx":170},
{"t":"2013-08-01","s":"te","lo":35,"hi":56,"mn":27,"mx":95},
{"t":"2013-08-09","s":"te","lo":34,"hi":55,"mn":26,"mx":90},
{"t":"2013-08-17","s":"te","lo":34,"hi":54,"mn":26,"mx":100},
{"t":"2013-08-25","s":"te","lo":33,"hi":53,"mn":25,"mx":85},
{"t":"2013-09-01","s":"te","lo":33,"hi":53,"mn":25,"mx":80},
{"t":"2013-09-09","s":"te","lo":34,"hi":55,"mn":26,"mx":163},
{"t":"2013-09-17","s":"te","lo":33,"hi":52,"mn":25,"mx":90},
{"t":"2013-09-25","s":"te","lo":32,"hi":50,"mn":24,"mx":75},
{"t":"2013-10-01","s":"te","lo":31,"hi":50,"mn":23,"mx":72},
{"t":"2013-10-09","s":"te","lo":31,"hi":49,"mn":23,"mx":78},
{"t":"2013-10-17","s":"te","lo":30,"hi":48,"mn":22,"mx":70},
{"t":"2013-10-25","s":"te","lo":31,"hi":50,"mn":23,"mx":85},
{"t":"2013-11-01","s":"te","lo":32,"hi":52,"mn":24,"mx":80},
{"t":"2013-11-09","s":"te","lo":33,"hi":55,"mn":25,"mx":88},
{"t":"2013-11-17","s":"te","lo":35,"hi":58,"mn":26,"mx":90},
{"t":"2013-11-25","s":"te","lo":36,"hi":62,"mn":27,"mx":122},
{"t":"2013-12-01","s":"te","lo":38,"hi":66,"mn":28,"mx":95},
{"t":"2013-12-09","s":"te","lo":42,"hi":72,"mn":30,"mx":218},
{"t":"2013-12-13","s":"te","lo":48,"hi":78,"mn":32,"mx":232},
{"t":"2013-12-17","s":"te","lo":52,"hi":75,"mn":40,"mx":200}
],
"txt": [
{"b":"capb","ln":0,"t":"Figure 1:"},
{"b":"cap0","ln":0,"t":"Price plot of the Nord Pool, EPEX intraday VWAP and GEFCom day-ahead regimes separated into training and forecast sections. The blue partition"},
{"b":"cap","ln":1,"t":"marks the initial training period that is consequently shifted with each iteration of the rolling estimation. The red parts are used for out-of-sample testing."},
{"b":"num","ln":0,"t":"1."},
{"b":"item","ln":0,"t":"A training set"},
{"b":"math","ln":2,"t":"𝒵ₜᵣₐᵢₙ,ₕ = {(x₁,ₕ, y₁,ₕ), ..., (xₘ,ₕ, yₘ,ₕ)}"},
{"b":"num","ln":4,"t":"2."},
{"b":"item","ln":4,"t":"A calibration set"},
{"b":"math","ln":6,"t":"𝒵calib,ₕ = {(xₘ₊₁,ₕ, yₘ₊₁,ₕ), ..., (xₗ,ₕ, yₗ,ₕ)} ."},
{"b":"bul","ln":9,"t":"•"},
{"b":"bt","ln":9,"t":"A random forecast model that exploits 𝒵ₜᵣₐᵢₙ for training"},
{"b":"bt","ln":11,"t":"and yields estimate ŷᵢ . Please note that we train on 𝒵ₜᵣₐᵢₙ"},
{"b":"bt","ln":13,"t":"and supply it with the data of 𝒵calib to obtain unbiased"},
{"b":"bt","ln":15,"t":"out-of-sample alike estimates ŷₘ₊₁,ₕ, ..., ŷₗ,ₕ ,"},
{"b":"bul","ln":18,"t":"•"},
{"b":"bt","ln":18,"t":"The most simple non-conformity score λᵢ = |yᵢ,ₕ − ŷᵢ,ₕ| ,"},
{"b":"bt","ln":20,"t":"only applied on the estimates in 𝒵calib ."},
{"b":"r","ln":0,"t":"The random division into training and calibration² is essential"},
{"b":"r","ln":2,"t":"since we explicitly fit a model on 𝒵ₜᵣₐᵢₙ and exploit 𝒵calib in"},
{"b":"r","ln":4,"t":"an out-of-sample context. Please note that we intentionally use"},
{"b":"r","ln":6,"t":"sampling here to increase generalization.  The point forecast"},
{"b":"r","ln":8,"t":"model is trained to minimize the error made for 𝒵ₜᵣₐᵢₙ . Only"},
{"b":"r","ln":10,"t":"considering 𝒵ₜᵣₐᵢₙ results in a construction of intervals on the"},
{"b":"r","ln":12,"t":"basis of explicitly minimized errors and causes an unrealistic"},
{"b":"r","ln":14,"t":"estimation for unknown data. It does not reflect the model be-"},
{"b":"r","ln":16,"t":"havior in an out-of-sample environment and could overfit the"},
{"b":"r","ln":18,"t":"prediction interval. Whereas the determination of the non-conformity"},
{"b":"fn1","ln":0,"t":"²The notation of training and calibration is sometimes also used for train-"},
{"b":"fn","ln":1,"t":"ing and parameterization of models. We use the term 'calibration' exclusively"},
{"b":"fn","ln":2,"t":"for Conformal Prediction and will use parameterization whenever we want to"},
{"b":"fn","ln":3,"t":"express that a model needs to be tuned to identifying its optimal parameters."}
]
},
"vconcat": [
{
  "width": 686, "height": 1,
  "view": {"stroke": null},
  "title": {"text": "3", "anchor": "end", "font": "Liberation Serif", "fontSize": 13, "fontWeight": "normal", "color": "#111", "offset": 2},
  "data": {"values": [{}]},
  "mark": {"type": "rule", "color": "#555", "strokeWidth": 1},
  "encoding": {
    "x": {"datum": 0, "type": "quantitative", "scale": {"domain": [39, 725], "nice": false, "zero": false}, "axis": null},
    "x2": {"datum": 725},
    "y": {"datum": 0, "type": "quantitative", "scale": {"domain": [0, 1]}, "axis": null}}
},
{
  "width": 682, "height": 138,
  "layer": [
    {"data": {"name": "pa"}, "mark": {"type": "area"},
     "encoding": {
       "x": {"field": "t", "type": "temporal", "scale": {"type": "utc", "domain": [{"year": 2012, "month": 7, "date": 19, "utc": true}, {"year": 2014, "month": 1, "date": 20, "utc": true}], "nice": false},
             "axis": {"values": [{"year": 2013, "month": 1, "date": 1, "utc": true}, {"year": 2014, "month": 1, "date": 1, "utc": true}], "format": "%Y", "title": "Delivery Hours [8.8.2012–31.12.2013]"}},
       "y": {"field": "lo", "type": "quantitative", "stack": null, "scale": {"domain": [-4.4, 146.6], "nice": false, "zero": false},
             "axis": {"values": [0, 20, 40, 60, 80, 100, 120, 140], "title": "Price [EUR/MWh]"}},
       "y2": {"field": "hi"},
       "color": {"field": "s", "type": "nominal", "scale": {"domain": ["tr", "te"], "range": ["#1e1ee0", "#ee1c1c"]}, "legend": null}}},
    {"data": {"name": "pa"}, "mark": {"type": "rule", "strokeWidth": 0.9},
     "encoding": {"x": {"field": "t", "type": "temporal"}, "y": {"field": "mn", "type": "quantitative"}, "y2": {"field": "mx"}, "color": {"field": "s", "type": "nominal", "legend": null}}},
    {"data": {"values": [{}]}, "mark": {"type": "rule", "strokeDash": [5, 3], "color": "#222", "strokeWidth": 1.2},
     "encoding": {"x": {"datum": {"year": 2013, "month": 7, "date": 4, "utc": true}, "type": "temporal"}}},
    {"data": {"values": [{"v": 0}, {"v": 20}, {"v": 40}, {"v": 60}, {"v": 80}, {"v": 100}, {"v": 140}]},
     "mark": {"type": "text", "angle": 270, "align": "center", "baseline": "bottom", "font": "Liberation Sans", "fontSize": 8, "color": "#222"},
     "encoding": {"x": {"datum": {"year": 2012, "month": 7, "date": 11, "utc": true}, "type": "temporal"}, "y": {"field": "v", "type": "quantitative"}, "text": {"field": "v", "type": "quantitative"}}},
    {"data": {"values": [{}]}, "mark": {"type": "text", "text": "a) Nordpool day-ahead", "align": "left", "baseline": "middle", "font": "Liberation Sans", "fontSize": 8, "fontWeight": "bold", "color": "#111"},
     "encoding": {"x": {"datum": {"year": 2012, "month": 7, "date": 22, "utc": true}, "type": "temporal"}, "y": {"datum": 138, "type": "quantitative"}}},
    {"data": {"values": [{}]}, "mark": {"type": "text", "text": "[8.8.12-3.7.13] training & calibration", "align": "center", "baseline": "middle", "font": "Liberation Sans", "fontSize": 7.5, "color": "#222"},
     "encoding": {"x": {"datum": {"year": 2013, "month": 3, "date": 11, "utc": true}, "type": "temporal"}, "y": {"datum": 133.5, "type": "quantitative"}}},
    {"data": {"values": [{}]}, "mark": {"type": "text", "text": "[4.7.12-31.12.13] out-of-sample forecast", "align": "center", "baseline": "middle", "font": "Liberation Sans", "fontSize": 7.5, "color": "#222"},
     "encoding": {"x": {"datum": {"year": 2013, "month": 9, "date": 24, "utc": true}, "type": "temporal"}, "y": {"datum": 133.5, "type": "quantitative"}}}
  ]
},
{
  "width": 682, "height": 138,
  "layer": [
    {"data": {"name": "pb"}, "mark": {"type": "area"},
     "encoding": {
       "x": {"field": "t", "type": "temporal", "scale": {"type": "utc", "domain": [{"year": 2013, "month": 6, "date": 3, "utc": true}, {"year": 2016, "month": 11, "date": 16, "utc": true}], "nice": false},
             "axis": {"values": [{"year": 2014, "month": 1, "date": 1, "utc": true}, {"year": 2015, "month": 1, "date": 1, "utc": true}, {"year": 2016, "month": 1, "date": 1, "utc": true}], "format": "%Y", "title": "Delivery Hours [21.7.2013–30.9.2016]"}},
       "y": {"field": "lo", "type": "quantitative", "stack": null, "scale": {"domain": [-58.5, 159.6], "nice": false, "zero": false},
             "axis": {"values": [-50, 0, 50, 100, 150], "title": "Price [EUR/MWh]"}},
       "y2": {"field": "hi"},
       "color": {"field": "s", "type": "nominal", "scale": {"domain": ["tr", "te"], "range": ["#1e1ee0", "#ee1c1c"]}, "legend": null}}},
    {"data": {"name": "pb"}, "mark": {"type": "rule", "strokeWidth": 1.4, "clip": true},
     "encoding": {"x": {"field": "t", "type": "temporal"}, "y": {"field": "mn", "type": "quantitative"}, "y2": {"field": "mx"}, "color": {"field": "s", "type": "nominal", "legend": null}}},
    {"data": {"values": [{}]}, "mark": {"type": "rule", "strokeDash": [5, 3], "color": "#222", "strokeWidth": 1.2},
     "encoding": {"x": {"datum": {"year": 2014, "month": 6, "date": 23, "utc": true}, "type": "temporal"}}},
    {"data": {"values": [{"v": -50}, {"v": 0}, {"v": 50}, {"v": 100}, {"v": 150}]},
     "mark": {"type": "text", "angle": 270, "align": "center", "baseline": "bottom", "font": "Liberation Sans", "fontSize": 8, "color": "#222"},
     "encoding": {"x": {"datum": {"year": 2013, "month": 5, "date": 16, "utc": true}, "type": "temporal"}, "y": {"field": "v", "type": "quantitative"}, "text": {"field": "v", "type": "quantitative"}}},
    {"data": {"values": [{}]}, "mark": {"type": "text", "text": "b) EPEX Intraday", "align": "left", "baseline": "middle", "font": "Liberation Sans", "fontSize": 8, "fontWeight": "bold", "color": "#111"},
     "encoding": {"x": {"datum": {"year": 2013, "month": 6, "date": 9, "utc": true}, "type": "temporal"}, "y": {"datum": 148.8, "type": "quantitative"}}},
    {"data": {"values": [{}]}, "mark": {"type": "text", "text": "[21.7.11-22.6.14] training", "align": "left", "baseline": "middle", "font": "Liberation Sans", "fontSize": 7.5, "color": "#222"},
     "encoding": {"x": {"datum": {"year": 2013, "month": 12, "date": 13, "utc": true}, "type": "temporal"}, "y": {"datum": 147, "type": "quantitative"}}},
    {"data": {"values": [{}]}, "mark": {"type": "text", "text": "& calibration", "align": "left", "baseline": "middle", "font": "Liberation Sans", "fontSize": 7.5, "color": "#222"},
     "encoding": {"x": {"datum": {"year": 2013, "month": 12, "date": 13, "utc": true}, "type": "temporal"}, "y": {"datum": 131.3, "type": "quantitative"}}},
    {"data": {"values": [{}]}, "mark": {"type": "text", "text": "[23.6.14-30.9.16] out-of-sample forecast", "align": "left", "baseline": "middle", "font": "Liberation Sans", "fontSize": 7.5, "color": "#222"},
     "encoding": {"x": {"datum": {"year": 2014, "month": 9, "date": 20, "utc": true}, "type": "temporal"}, "y": {"datum": 147, "type": "quantitative"}}}
  ]
},
{
  "width": 682, "height": 138,
  "layer": [
    {"data": {"name": "pc"}, "mark": {"type": "area"},
     "encoding": {
       "x": {"field": "t", "type": "temporal", "scale": {"type": "utc", "domain": [{"year": 2010, "month": 11, "date": 19, "utc": true}, {"year": 2014, "month": 1, "date": 28, "utc": true}], "nice": false},
             "axis": {"values": [{"year": 2011, "month": 1, "date": 1, "utc": true}, {"year": 2012, "month": 1, "date": 1, "utc": true}, {"year": 2013, "month": 1, "date": 1, "utc": true}, {"year": 2014, "month": 1, "date": 1, "utc": true}], "format": "%Y", "title": "Delivery Hours [1.1.2011–17.12.2013]"}},
       "y": {"field": "lo", "type": "quantitative", "stack": null, "scale": {"domain": [-2, 378], "nice": false, "zero": false},
             "axis": {"values": [0, 50, 100, 150, 200, 250, 300], "title": "Price [EUR/MWh]"}},
       "y2": {"field": "hi"},
       "color": {"field": "s", "type": "nominal", "scale": {"domain": ["tr", "te"], "range": ["#1e1ee0", "#ee1c1c"]}, "legend": null}}},
    {"data": {"name": "pc"}, "mark": {"type": "rule", "strokeWidth": 0.9},
     "encoding": {"x": {"field": "t", "type": "temporal"}, "y": {"field": "mn", "type": "quantitative"}, "y2": {"field": "mx"}, "color": {"field": "s", "type": "nominal", "legend": null}}},
    {"data": {"values": [{}]}, "mark": {"type": "rule", "strokeDash": [5, 3], "color": "#222", "strokeWidth": 1.2},
     "encoding": {"x": {"datum": {"year": 2012, "month": 12, "date": 14, "utc": true}, "type": "temporal"}}},
    {"data": {"values": [{"v": 0}, {"v": 50}, {"v": 100}, {"v": 200}, {"v": 300}]},
     "mark": {"type": "text", "angle": 270, "align": "center", "baseline": "bottom", "font": "Liberation Sans", "fontSize": 8, "color": "#222"},
     "encoding": {"x": {"datum": {"year": 2010, "month": 11, "date": 2, "utc": true}, "type": "temporal"}, "y": {"field": "v", "type": "quantitative"}, "text": {"field": "v", "type": "quantitative"}}},
    {"data": {"values": [{}]}, "mark": {"type": "text", "text": "c) GEFCom Day-ahead", "align": "left", "baseline": "middle", "font": "Liberation Sans", "fontSize": 8, "fontWeight": "bold", "color": "#111"},
     "encoding": {"x": {"datum": {"year": 2010, "month": 11, "date": 25, "utc": true}, "type": "temporal"}, "y": {"datum": 356, "type": "quantitative"}}},
    {"data": {"values": [{}]}, "mark": {"type": "text", "text": "[1.1.11-16.12.13] training & calibration", "align": "center", "baseline": "middle", "font": "Liberation Sans", "fontSize": 7.5, "color": "#222"},
     "encoding": {"x": {"datum": {"year": 2012, "month": 2, "date": 17, "utc": true}, "type": "temporal"}, "y": {"datum": 356, "type": "quantitative"}}},
    {"data": {"values": [{}]}, "mark": {"type": "text", "text": "[18.12.12-17.12.13] out-of-sample forecast", "align": "center", "baseline": "middle", "font": "Liberation Sans", "fontSize": 7.5, "color": "#222"},
     "encoding": {"x": {"datum": {"year": 2013, "month": 6, "date": 25, "utc": true}, "type": "temporal"}, "y": {"datum": 356, "type": "quantitative"}}}
  ]
},
{
  "width": 686, "height": 352,
  "view": {"stroke": null},
  "resolve": {"scale": {"y": "independent"}},
  "layer": [
    {"data": {"name": "txt"}, "transform": [{"filter": "datum.b == 'capb'"}],
     "mark": {"type": "text", "align": "left", "baseline": "middle", "font": "Liberation Serif", "fontSize": 11.1, "fontWeight": "bold", "color": "#111"},
     "encoding": {"x": {"datum": 0, "type": "quantitative", "scale": {"domain": [39, 725], "nice": false, "zero": false}, "axis": null},
                  "y": {"field": "ln", "type": "quantitative", "scale": {"domain": [-0.9375, 21.0625], "reverse": true, "nice": false, "zero": false}, "axis": null},
                  "text": {"field": "t"}}},
    {"data": {"name": "txt"}, "transform": [{"filter": "datum.b == 'cap0'"}],
     "mark": {"type": "text", "align": "left", "baseline": "middle", "font": "Liberation Serif", "fontSize": 11.1, "color": "#111"},
     "encoding": {"x": {"datum": 48, "type": "quantitative"},
                  "y": {"field": "ln", "type": "quantitative", "scale": {"domain": [-0.9375, 21.0625], "reverse": true, "nice": false, "zero": false}, "axis": null},
                  "text": {"field": "t"}}},
    {"data": {"name": "txt"}, "transform": [{"filter": "datum.b == 'cap'"}],
     "mark": {"type": "text", "align": "left", "baseline": "middle", "font": "Liberation Serif", "fontSize": 11.1, "color": "#111"},
     "encoding": {"x": {"datum": 0, "type": "quantitative"},
                  "y": {"field": "ln", "type": "quantitative", "scale": {"domain": [-0.9375, 21.0625], "reverse": true, "nice": false, "zero": false}, "axis": null},
                  "text": {"field": "t"}}},
    {"data": {"name": "txt"}, "transform": [{"filter": "datum.b == 'num'"}],
     "mark": {"type": "text", "align": "left", "baseline": "middle", "font": "Liberation Serif", "fontSize": 12.6, "color": "#111"},
     "encoding": {"x": {"datum": 48, "type": "quantitative"},
                  "y": {"field": "ln", "type": "quantitative", "scale": {"domain": [-6.5, 25.5], "reverse": true, "nice": false, "zero": false}, "axis": null},
                  "text": {"field": "t"}}},
    {"data": {"name": "txt"}, "transform": [{"filter": "datum.b == 'item'"}],
     "mark": {"type": "text", "align": "left", "baseline": "middle", "font": "Liberation Serif", "fontSize": 12.6, "color": "#111"},
     "encoding": {"x": {"datum": 65.3, "type": "quantitative"},
                  "y": {"field": "ln", "type": "quantitative", "scale": {"domain": [-6.5, 25.5], "reverse": true, "nice": false, "zero": false}, "axis": null},
                  "text": {"field": "t"}}},
    {"data": {"name": "txt"}, "transform": [{"filter": "datum.b == 'math'"}],
     "mark": {"type": "text", "align": "left", "baseline": "middle", "font": "Liberation Serif", "fontSize": 12.6, "color": "#111"},
     "encoding": {"x": {"datum": 74.7, "type": "quantitative"},
                  "y": {"field": "ln", "type": "quantitative", "scale": {"domain": [-6.5, 25.5], "reverse": true, "nice": false, "zero": false}, "axis": null},
                  "text": {"field": "t"}}},
    {"data": {"name": "txt"}, "transform": [{"filter": "datum.b == 'bul'"}],
     "mark": {"type": "text", "align": "left", "baseline": "middle", "font": "Liberation Serif", "fontSize": 12.6, "color": "#111"},
     "encoding": {"x": {"datum": 23, "type": "quantitative"},
                  "y": {"field": "ln", "type": "quantitative", "scale": {"domain": [-6.5, 25.5], "reverse": true, "nice": false, "zero": false}, "axis": null},
                  "text": {"field": "t"}}},
    {"data": {"name": "txt"}, "transform": [{"filter": "datum.b == 'bt'"}],
     "mark": {"type": "text", "align": "left", "baseline": "middle", "font": "Liberation Serif", "fontSize": 12.6, "color": "#111"},
     "encoding": {"x": {"datum": 36, "type": "quantitative"},
                  "y": {"field": "ln", "type": "quantitative", "scale": {"domain": [-6.5, 25.5], "reverse": true, "nice": false, "zero": false}, "axis": null},
                  "text": {"field": "t"}}},
    {"data": {"name": "txt"}, "transform": [{"filter": "datum.b == 'r'"}],
     "mark": {"type": "text", "align": "left", "baseline": "middle", "font": "Liberation Serif", "fontSize": 12.6, "color": "#111"},
     "encoding": {"x": {"datum": 375, "type": "quantitative"},
                  "y": {"field": "ln", "type": "quantitative", "scale": {"domain": [-6.5, 25.5], "reverse": true, "nice": false, "zero": false}, "axis": null},
                  "text": {"field": "t"}}},
    {"data": {"name": "txt"}, "transform": [{"filter": "datum.b == 'fn1'"}],
     "mark": {"type": "text", "align": "left", "baseline": "middle", "font": "Liberation Serif", "fontSize": 9.8, "color": "#111"},
     "encoding": {"x": {"datum": 390.7, "type": "quantitative"},
                  "y": {"field": "ln", "type": "quantitative", "scale": {"domain": [-25.8333, 3.5], "reverse": true, "nice": false, "zero": false}, "axis": null},
                  "text": {"field": "t"}}},
    {"data": {"name": "txt"}, "transform": [{"filter": "datum.b == 'fn'"}],
     "mark": {"type": "text", "align": "left", "baseline": "middle", "font": "Liberation Serif", "fontSize": 9.8, "color": "#111"},
     "encoding": {"x": {"datum": 371, "type": "quantitative"},
                  "y": {"field": "ln", "type": "quantitative", "scale": {"domain": [-25.8333, 3.5], "reverse": true, "nice": false, "zero": false}, "axis": null},
                  "text": {"field": "t"}}},
    {"data": {"values": [{}]},
     "mark": {"type": "rule", "color": "#111", "strokeWidth": 0.7},
     "encoding": {"x": {"datum": 371, "type": "quantitative"}, "x2": {"datum": 513},
                  "y": {"datum": -1.08, "type": "quantitative", "scale": {"domain": [-25.8333, 3.5], "reverse": true, "nice": false, "zero": false}, "axis": null}}}
  ]
}
]
}
